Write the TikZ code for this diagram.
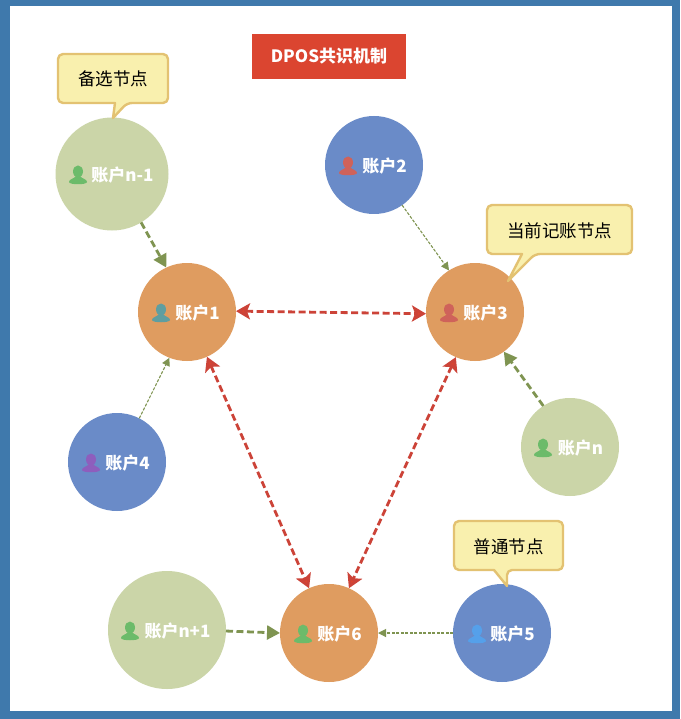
\documentclass[tikz,border=0pt]{standalone}
\usepackage{fontspec}
\usepackage{xcolor}
\usetikzlibrary{arrows.meta}
\newfontfamily\cjk{Noto Sans CJK SC}
\definecolor{framebg}{HTML}{3F79AC}
\definecolor{candgreen}{HTML}{CBD5A8}
\definecolor{normblue}{HTML}{6A8BC8}
\definecolor{curorange}{HTML}{DF9C60}
\definecolor{titlered}{HTML}{DB4530}
\definecolor{linkred}{HTML}{CC4338}
\definecolor{linkgreen}{HTML}{7F9451}
\definecolor{tipfill}{HTML}{F9F0AE}
\definecolor{tipedge}{HTML}{E3C272}
\definecolor{icongreen}{HTML}{6CBB6A}
\definecolor{iconteal}{HTML}{5F9EA0}
\definecolor{iconred}{HTML}{CF625A}
\definecolor{iconpurple}{HTML}{8E5EBD}
\definecolor{iconblue}{HTML}{55A0EA}
\newcommand{\acctlabel}[1]{\raisebox{-1.5pt}[\height][\depth]{\hspace*{21pt}#1}}
\newcommand{\tipshape}[7]{\draw[tipbox] [rounded corners=5pt] (#1,#2) -- (#3,#2) -- (#3,#4) -- (#6,#4) [sharp corners] -- (#7) -- (#5,#4) [rounded corners=5pt] -- (#1,#4) -- cycle;}
\tikzset{
  acct/.style={circle,inner sep=0pt,outer sep=0pt,text=white,font=\cjk\bfseries\fontsize{17}{19}\selectfont},
  candnode/.style={acct,fill=candgreen},
  normnode/.style={acct,fill=normblue,minimum size=98pt},
  curnode/.style={acct,fill=curorange,minimum size=98pt},
  tipbox/.style={draw=tipedge,fill=tipfill,line width=2.4pt,line join=round},
  tiptext/.style={font=\cjk\fontsize{17.5}{19}\selectfont,text=black,inner sep=0pt},
  mainlink/.style={draw=linkred,line width=2.8pt,dash pattern=on 7pt off 3.5pt,{Stealth[length=14pt,width=16pt,inset=3pt,fill=titlered]}-{Stealth[length=14pt,width=16pt,inset=3pt,fill=titlered]}},
  thicklink/.style={draw=linkgreen,line width=2.8pt,dash pattern=on 7pt off 3.5pt,-{Triangle[length=13pt,width=14pt]}},
  thinlink/.style={draw=linkgreen,line width=1.1pt,dash pattern=on 3pt off 1.5pt,-{Triangle[length=8pt,width=8pt]}},
  usericon/.pic={
    \fill[pic actions] (0,-3.5) ellipse [x radius=5,y radius=6];
    \fill[pic actions] (-9,7) .. controls (-9,4) and (-4,4) .. (-2,1) -- (2,1) .. controls (4,4) and (9,4) .. (9,7) .. controls (9,10) and (-9,10) .. (-9,7) -- cycle;
  }
}
\begin{document}
\begin{tikzpicture}[x=1pt,y=-1pt]
\useasboundingbox (0,0) rectangle (680,719);
\fill[framebg] (0,0) rectangle (680,719);
\fill[white] (10,6) rectangle (672,711);

\node[fill=titlered,text=white,minimum width=153.5pt,minimum height=45pt,inner sep=0pt,font=\cjk\bfseries\fontsize{17}{19}\selectfont] (title) at (329,56.5) {DPOS共识机制};

\node[candnode,minimum size=113pt] (acctn1) at (112,174) {\acctlabel{账户n-1}};
\node[curnode] (acct1) at (187,312) {\acctlabel{账户1}};
\node[normnode] (acct2) at (374,165) {\acctlabel{账户2}};
\node[curnode] (acct3) at (475,312) {\acctlabel{账户3}};
\node[normnode] (acct4) at (117,462) {\acctlabel{账户4}};
\node[candnode,minimum size=98pt] (acctn) at (570,447) {\acctlabel{账户n}};
\node[candnode,minimum size=118pt] (acctn2) at (167,630) {\acctlabel{账户n+1}};
\node[curnode] (acct6) at (329,633) {\acctlabel{账户6}};
\node[normnode] (acct5) at (502,633) {\acctlabel{账户5}};

\pic[fill=icongreen] at ([xshift=-34pt,yshift=-1pt]acctn1.center) {usericon};
\pic[fill=iconteal] at ([xshift=-26pt,yshift=-1pt]acct1.center) {usericon};
\pic[fill=iconred] at ([xshift=-26pt,yshift=-1pt]acct2.center) {usericon};
\pic[fill=iconred] at ([xshift=-26pt,yshift=-1pt]acct3.center) {usericon};
\pic[fill=iconpurple] at ([xshift=-26pt,yshift=-1pt]acct4.center) {usericon};
\pic[fill=icongreen] at ([xshift=-27pt,yshift=-1pt]acctn.center) {usericon};
\pic[fill=icongreen] at ([xshift=-37pt,yshift=-1pt]acctn2.center) {usericon};
\pic[fill=icongreen] at ([xshift=-26pt,yshift=-1pt]acct6.center) {usericon};
\pic[fill=iconblue] at ([xshift=-25pt,yshift=-1pt]acct5.center) {usericon};

\path (acct1.1) edge[mainlink] (acct3.182);
\path (acct1.-66) edge[mainlink] (acct6.114);
\path (acct3.-113) edge[mainlink] (acct6.66);
\path (acctn1.-59) edge[thicklink] (acct1.115);
\path (acctn.123) edge[thicklink] (acct3.-54);
\path (acctn2.-1) edge[thicklink] (acct6.180);
\path (acct2.-55) edge[thinlink] (acct3.122);
\path (acct4.63) edge[thinlink] (acct1.-111);
\path (acct5.180) edge[thinlink] (acct6.0);

\tipshape{58}{54}{168}{103}{115}{127}{113,118}
\tipshape{487}{205}{632}{254}{522}{535}{508,281}
\tipshape{454}{521}{563}{570}{494}{507}{507,586}
\node[tiptext] (tipcand) at (113,79) {备选节点};
\node[tiptext] (tipcur) at (559.5,230.5) {当前记账节点};
\node[tiptext] (tipnorm) at (508.5,546.5) {普通节点};
\end{tikzpicture}
\end{document}
